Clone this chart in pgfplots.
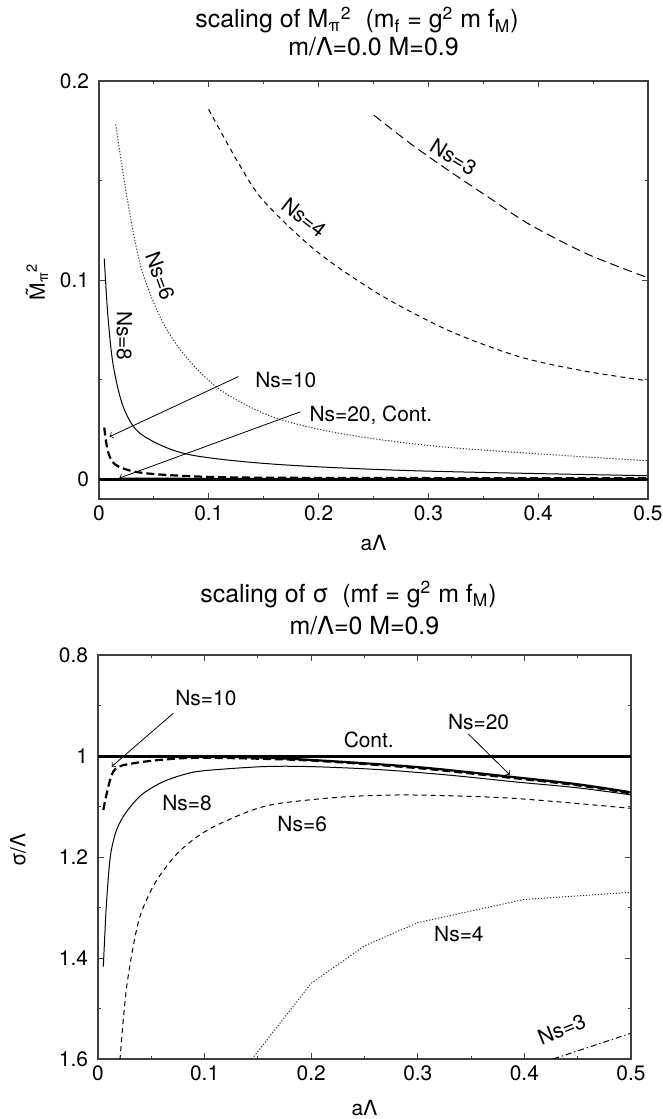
\documentclass[border=0pt]{standalone}
\usepackage{fontspec}
\setmainfont{TeX Gyre Heros}
\usepackage{pgfplots}
\pgfplotsset{compat=1.18}

\pgfplotsset{
  gp/.style={
    scale only axis,
    clip mode=individual,
    axis line style={black!75, line width=0.6bp},
    tick style={black!75, line width=0.5bp},
    major tick length=3bp, minor tick length=1.6bp,
    tick align=inside,
    xmin=0, xmax=0.5, xtick={0,0.1,0.2,0.3,0.4,0.5}, minor x tick num=1,
    minor y tick num=1,
    tick label style={font=\fontsize{10.5}{12}\selectfont},
    yticklabel style={xshift=-1.5bp},
    label style={font=\fontsize{10.5}{12}\selectfont},
    /pgf/number format/assume math mode=true,
  },
}
\tikzset{
  lbl/.style={font=\fontsize{10.5}{12}\selectfont, inner sep=0pt},
  ttl/.style={font=\fontsize{12.5}{14}\selectfont, anchor=base, inner sep=0pt},
  arr/.style={->, line width=0.4bp},
  ns3/.style={black, line width=0.5bp, dash pattern=on 4.5bp off 2.5bp},
  ns4/.style={black, line width=0.5bp, dash pattern=on 2.5bp off 2bp},
  ns6/.style={black!80, line width=0.5bp, dash pattern=on 0.6bp off 0.9bp},
  ns8/.style={black, line width=0.5bp},
  ns10/.style={black, line width=1.1bp, dash pattern=on 4bp off 2bp},
  cont/.style={black, line width=1.5bp},
}

\begin{document}
\begin{tikzpicture}

% ---------------- top: M_pi^2 ----------------
\begin{axis}[gp,
  at={(49.5bp,-40.5bp)}, anchor=north west,
  width=274.5bp, height=209bp,
  ymin=-0.01, ymax=0.2, ytick={0,0.1,0.2},
  xlabel={aΛ}, ylabel={\accent"02DC M\textsubscript{π}\textsuperscript{2}},
  xlabel style={at={(axis description cs:0.5,-0.105)}, anchor=center},
  ylabel style={at={(axis description cs:-0.113,0.52)}, anchor=center},
]
% Cont. and Ns=20
\addplot[cont] coordinates {(0,0) (0.5,0)};
\addplot[ns8] coordinates {(0.0185,0.0005) (0.1,0.0004) (0.5,0.0003)};
% Ns=3
\addplot[ns3, smooth] coordinates {
  (0.2504,0.1828) (0.285,0.168) (0.319,0.1548) (0.355,0.1415) (0.392,0.128)
  (0.445,0.113) (0.4992,0.1013)};
% Ns=4
\addplot[ns4, smooth] coordinates {
  (0.0998,0.1858) (0.1276,0.1582) (0.15,0.1397) (0.1978,0.1146) (0.2552,0.0929)
  (0.319,0.0745) (0.3828,0.0615) (0.44,0.0545) (0.4992,0.0494)};
% Ns=6
\addplot[ns6, smooth] coordinates {
  (0.0153,0.1782) (0.0255,0.1414) (0.0383,0.1063) (0.0574,0.0795) (0.0797,0.0611)
  (0.1116,0.0444) (0.1595,0.031) (0.2233,0.0226) (0.319,0.0159) (0.4992,0.0092)};
% Ns=8
\addplot[ns8, smooth] coordinates {
  (0.0048,0.1108) (0.008,0.0828) (0.0128,0.0577) (0.0223,0.036) (0.0383,0.0226)
  (0.0797,0.0126) (0.1595,0.0075) (0.287,0.0042) (0.4992,0.0017)};
% Ns=10
\addplot[ns10, smooth] coordinates {
  (0.0048,0.0259) (0.008,0.0142) (0.0144,0.0075) (0.0319,0.0038) (0.0638,0.002)
  (0.1276,0.0008) (0.3,0.0005) (0.5,0.0004)};

\node[lbl, rotate=-90] at (axis cs:0.023,0.072) {Ns=8};
\node[lbl, rotate=-70] at (axis cs:0.0558,0.1021) {Ns=6};
\node[lbl, rotate=-38] at (axis cs:0.1866,0.1314) {Ns=4};
\node[lbl, rotate=-31] at (axis cs:0.3228,0.1618) {Ns=3};
\node[lbl, anchor=west] at (axis cs:0.142,0.0499) {Ns=10};
\node[lbl, anchor=west] at (axis cs:0.1914,0.0321) {Ns=20, Cont.};
\draw[arr] (axis cs:0.127,0.0515) -- (axis cs:0.0096,0.0213);
\draw[arr] (axis cs:0.1834,0.0338) -- (axis cs:0.0185,0.0005);

\node[ttl] at (axis description cs:0.47,1.127)
  {scaling of M\textsubscript{π}\textsuperscript{2}\ \ (m\textsubscript{f} = g\textsuperscript{2} m f\textsubscript{M})};
\node[ttl] at (axis description cs:0.5,1.062) {m/Λ=0.0 M=0.9};
\end{axis}

% ---------------- bottom: sigma ----------------
\begin{axis}[gp,
  at={(49bp,-327.5bp)}, anchor=north west,
  width=266.5bp, height=202bp,
  y dir=reverse, ymin=0.8, ymax=1.6, ytick={0.8,1,1.2,1.4,1.6},
  xlabel={aΛ}, ylabel={σ/Λ},
  xlabel style={at={(axis description cs:0.5,-0.121)}, anchor=center},
  ylabel style={at={(axis description cs:-0.150,0.517)}, anchor=center},
]
\addplot[cont] coordinates {(0,1) (0.5,1)};
% Ns=20
\addplot[black, line width=1.1bp, smooth] coordinates {
  (0.005,1.001) (0.1,1.001) (0.15,1.003) (0.202,1.008) (0.3,1.022)
  (0.3865,1.041) (0.45,1.056) (0.5,1.0719)};
% Ns=10
\addplot[ns10, smooth] coordinates {
  (0.005,1.107) (0.0143,1.031) (0.033,1.0145) (0.077,1.0046) (0.12,1.004)
  (0.2,1.009) (0.3,1.024) (0.3865,1.043) (0.45,1.058) (0.5,1.074)};
% Ns=8
\addplot[ns8, smooth] coordinates {
  (0.005,1.417) (0.0065,1.35) (0.008,1.29) (0.0115,1.2) (0.0168,1.15)
  (0.0237,1.12) (0.0325,1.095) (0.0425,1.074) (0.06,1.052) (0.08,1.037)
  (0.1,1.029) (0.155,1.021) (0.2,1.021) (0.2645,1.027) (0.33,1.038)
  (0.39,1.051) (0.45,1.063) (0.5,1.077)};
% Ns=6
\addplot[ns4, smooth] coordinates {
  (0.0206,1.602) (0.0269,1.457) (0.0377,1.33) (0.05,1.265) (0.062,1.225)
  (0.078,1.1855) (0.1024,1.147) (0.141,1.11) (0.1707,1.0937)
  (0.2333,1.0806) (0.2958,1.0772) (0.3896,1.0838) (0.5,1.1036)};
% Ns=4
\addplot[ns6] coordinates {
  (0.1445,1.6) (0.2,1.45) (0.25,1.376) (0.3,1.33) (0.4,1.284) (0.5,1.27)};
% Ns=3
\addplot[black, line width=0.5bp, dash pattern=on 3bp off 1.5bp on 0.6bp off 1.5bp]
  coordinates {(0.427,1.6) (0.5,1.549)};

\node[lbl, anchor=west] at (axis cs:0.0722,0.885) {Ns=10};
\draw[arr] (axis cs:0.0706,0.9155) -- (axis cs:0.0128,1.021);
\node[lbl, anchor=west] at (axis cs:0.328,0.9327) {Ns=20};
\draw[arr] (axis cs:0.3474,0.9564) -- (axis cs:0.3865,1.0376);
\node[lbl] at (axis cs:0.254,0.968) {Cont.};
\node[lbl, anchor=west] at (axis cs:0.060,1.094) {Ns=8};
\node[lbl, anchor=west] at (axis cs:0.168,1.135) {Ns=6};
\node[lbl, anchor=west] at (axis cs:0.315,1.353) {Ns=4};
\node[lbl, rotate=22] at (axis cs:0.435,1.541) {Ns=3};

\node[ttl] at (axis description cs:0.47,1.131)
  {scaling of σ\ \ (mf = g\textsuperscript{2} m f\textsubscript{M})};
\node[ttl] at (axis description cs:0.5,1.052) {m/Λ=0 M=0.9};
\end{axis}

\pgfresetboundingbox
\path[use as bounding box] (0,0) rectangle (331.5bp,-559.5bp);
\end{tikzpicture}
\end{document}
